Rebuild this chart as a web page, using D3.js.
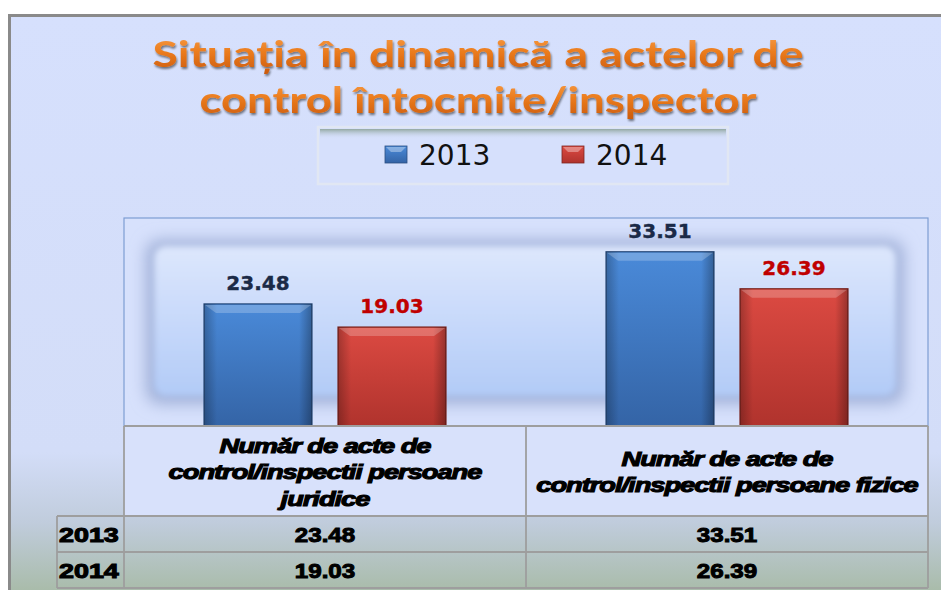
<!DOCTYPE html>
<html><head><meta charset="utf-8">
<script src="https://cdn.jsdelivr.net/npm/d3@7"></script>
<style>html,body{margin:0;padding:0;background:#fff;}svg{display:block;}</style>
</head><body>
<svg id="chart" width="941" height="590"></svg>
<script>
// ---- data ----
const titleLines = ["Situația în dinamică a actelor de", "control întocmite/inspector"];
const categories = ["juridice", "fizice"];
const categoryLabelLines = [
  ["Număr de acte de", "control/inspectii persoane", "juridice"],
  ["Număr de acte de", "control/inspectii persoane fizice"]
];
const seriesNames = ["2013", "2014"];
const values2013 = [23.48, 33.51];
const values2014 = [19.03, 26.39];
const seriesValues = [values2013, values2014];
const valueLabelColors = ["#1b2a47", "#c00000"];

// ---- layout ----
const W = 941, H = 590;
const plot = {left: 124, right: 928, top: 218, bottom: 426};
const svg = d3.select("#chart");
const defs = svg.append("defs");

function lin(id, stops, x2 = 0, y2 = 1) {
  const g = defs.append("linearGradient").attr("id", id)
    .attr("x1", 0).attr("y1", 0).attr("x2", x2).attr("y2", y2);
  stops.forEach(s => g.append("stop").attr("offset", s[0]).attr("stop-color", s[1]).attr("stop-opacity", s[2] == null ? 1 : s[2]));
}
lin("bgGrad", [[0, "#d6e0fd"], [0.74, "#d3ddf8"], [0.86, "#c0ccdc"], [1, "#a4b89f"]]);
lin("titleGrad", [[0, "#f9a24c"], [0.5, "#ea7a1c"], [1, "#c9580a"]]);
lin("blueBar", [[0, "#4a8ad9"], [1, "#3464a6"]]);
lin("redBar", [[0, "#dc4a42"], [1, "#b0332d"]]);
lin("glowGrad", [[0, "#dde7fd"], [1, "#b2cbf7"]]);
lin("legendTop", [[0, "#93a8a2"], [1, "#d6e0fc", 0]]);
lin("sideDark", [[0, "#000", 0.25], [0.12, "#000", 0], [0.88, "#000", 0], [1, "#000", 0.3]], 1, 0);

const fShadow = defs.append("filter").attr("id", "tshadow").attr("x", "-10%").attr("y", "-30%").attr("width", "120%").attr("height", "160%");
fShadow.append("feGaussianBlur").attr("in", "SourceAlpha").attr("stdDeviation", 1.2).attr("result", "b");
fShadow.append("feOffset").attr("dx", 1).attr("dy", 2).attr("result", "o");
fShadow.append("feComponentTransfer").append("feFuncA").attr("type", "linear").attr("slope", 0.5);
const m = fShadow.append("feMerge"); m.append("feMergeNode"); m.append("feMergeNode").attr("in", "SourceGraphic");

const fBlur = defs.append("filter").attr("id", "blur7").attr("x", "-20%").attr("y", "-30%").attr("width", "140%").attr("height", "160%");
fBlur.append("feGaussianBlur").attr("stdDeviation", 8);
const fBlur2 = defs.append("filter").attr("id", "blur3").attr("x", "-20%").attr("y", "-30%").attr("width", "140%").attr("height", "160%");
fBlur2.append("feGaussianBlur").attr("stdDeviation", 3);

// stretch text horizontally by factor k around its anchor
function stretch(sel, k) {
  sel.each(function() {
    const len = this.getComputedTextLength();
    d3.select(this).attr("textLength", len * k).attr("lengthAdjust", "spacingAndGlyphs");
  });
}

// background frame
svg.append("rect").attr("x", 0).attr("y", 0).attr("width", W).attr("height", H).attr("fill", "#fff");
svg.append("rect").attr("x", 9.5).attr("y", 15.5).attr("width", W).attr("height", H)
  .attr("fill", "url(#bgGrad)").attr("stroke", "#8a8a8a").attr("stroke-width", 3);

// title
const titleWidths = [651, 557];
svg.append("g").selectAll("text").data(titleLines).join("text")
  .attr("x", 478).attr("y", (d, i) => 67 + i * 46)
  .attr("text-anchor", "middle")
  .attr("font-family", "Lato, 'Open Sans', sans-serif").attr("font-weight", 700)
  .attr("font-size", 36).attr("fill", "url(#titleGrad)")
  .attr("filter", "url(#tshadow)")
  .attr("textLength", (d, i) => titleWidths[i]).attr("lengthAdjust", "spacingAndGlyphs")
  .text(d => d);

// legend
const lg = svg.append("g");
lg.append("rect").attr("x", 318).attr("y", 127).attr("width", 410).attr("height", 57)
  .attr("fill", "#d6e0fc").attr("stroke", "#e1e7f3").attr("stroke-width", 2.5);
lg.append("rect").attr("x", 320).attr("y", 129).attr("width", 406).attr("height", 10)
  .attr("fill", "url(#legendTop)");
const legendX = [385, 562];
const legItems = lg.selectAll("g.item").data(seriesNames).join("g").attr("class", "item")
  .attr("transform", (d, i) => `translate(${legendX[i]},146)`);
legItems.append("rect").attr("width", 22).attr("height", 17)
  .attr("fill", (d, i) => i === 0 ? "url(#blueBar)" : "url(#redBar)")
  .attr("stroke", (d, i) => i === 0 ? "#2c4f80" : "#7d2621").attr("stroke-width", 0.8);
legItems.append("path").attr("d", "M1,1 L21,1 L16,6 L6,6 Z")
  .attr("fill", "#fff").attr("opacity", 0.35);
legItems.append("text").attr("x", 34).attr("y", 19)
  .attr("font-family", "'DejaVu Sans', sans-serif").attr("font-size", 28).attr("fill", "#111")
  .text(d => d);

// plot area
svg.append("rect").attr("x", plot.left).attr("y", plot.top)
  .attr("width", plot.right - plot.left).attr("height", plot.bottom - plot.top)
  .attr("fill", "#d7e1fc").attr("stroke", "#7d9dd3").attr("stroke-width", 1.2);
// glow panel
svg.append("rect").attr("x", 146).attr("y", 240).attr("width", 758).attr("height", 164).attr("rx", 14)
  .attr("fill", "#a0b0d8").attr("filter", "url(#blur7)");
svg.append("rect").attr("x", 154).attr("y", 246).attr("width", 742).attr("height", 150).attr("rx", 12)
  .attr("fill", "url(#glowGrad)").attr("filter", "url(#blur3)");

// scales
const x0 = d3.scaleBand().domain(categories).range([plot.left, plot.right]).padding(0);
const x1 = d3.scaleBand().domain(seriesNames).range([80, x0.bandwidth() - 80]).paddingInner(0.194);
const y = d3.scaleLinear().domain([0, 40]).range([plot.bottom, plot.top]);

const barData = [];
categories.forEach((c, ci) => seriesNames.forEach((s, si) => barData.push({c, s, si, v: seriesValues[si][ci]})));

const bars = svg.append("g").selectAll("g.bar").data(barData).join("g").attr("class", "bar");
bars.append("rect")
  .attr("x", d => x0(d.c) + x1(d.s)).attr("y", d => y(d.v))
  .attr("width", x1.bandwidth()).attr("height", d => y(0) - y(d.v))
  .attr("fill", d => d.si === 0 ? "url(#blueBar)" : "url(#redBar)")
  .attr("stroke", d => d.si === 0 ? "#294a78" : "#7a241f").attr("stroke-width", 1.2);
bars.append("rect")
  .attr("x", d => x0(d.c) + x1(d.s)).attr("y", d => y(d.v))
  .attr("width", x1.bandwidth()).attr("height", d => y(0) - y(d.v))
  .attr("fill", "url(#sideDark)");
bars.append("path")
  .attr("d", d => {
    const xl = x0(d.c) + x1(d.s), xr = xl + x1.bandwidth(), yt = y(d.v);
    return `M${xl + 1},${yt + 1} L${xr - 1},${yt + 1} L${xr - 12},${yt + 9} L${xl + 12},${yt + 9} Z`;
  })
  .attr("fill", "#fff").attr("opacity", 0.22);

// value labels
svg.append("g").selectAll("text").data(barData).join("text")
  .attr("x", d => x0(d.c) + x1(d.s) + x1.bandwidth() / 2)
  .attr("y", d => y(d.v) - 14)
  .attr("text-anchor", "middle")
  .attr("font-family", "'DejaVu Sans', Verdana, sans-serif").attr("font-weight", 700)
  .attr("font-size", 20).attr("fill", d => valueLabelColors[d.si])
  .attr("stroke", d => valueLabelColors[d.si]).attr("stroke-width", 0.4)
  .text(d => d.v.toFixed(2));

// data table
const tbl = {headerBottom: 516, row1Bottom: 552, row2Bottom: 588, rowHeadLeft: 57};
const tg = svg.append("g");
const lineC = "#9e9e9e";
tg.append("rect").attr("x", plot.left).attr("y", plot.bottom).attr("width", plot.right - plot.left)
  .attr("height", tbl.headerBottom - plot.bottom).attr("fill", "#d8e1fb");
const hl = [[plot.left, plot.right, plot.bottom], [tbl.rowHeadLeft, plot.right, tbl.headerBottom],
  [tbl.rowHeadLeft, plot.right, tbl.row1Bottom], [tbl.rowHeadLeft, plot.right, tbl.row2Bottom]];
tg.selectAll("line.h").data(hl).join("line").attr("class", "h")
  .attr("x1", d => d[0]).attr("x2", d => d[1]).attr("y1", d => d[2]).attr("y2", d => d[2])
  .attr("stroke", lineC).attr("stroke-width", 1.8);
const vl = [[plot.left, plot.bottom, tbl.row2Bottom], [x0(categories[1]), plot.bottom, tbl.row2Bottom],
  [plot.right, plot.bottom, tbl.row2Bottom], [tbl.rowHeadLeft, tbl.headerBottom, tbl.row2Bottom]];
tg.selectAll("line.v").data(vl).join("line").attr("class", "v")
  .attr("x1", d => d[0]).attr("x2", d => d[0]).attr("y1", d => d[1]).attr("y2", d => d[2])
  .attr("stroke", lineC).attr("stroke-width", 1.8);

// category header labels
categories.forEach((c, ci) => {
  const lines = categoryLabelLines[ci];
  const cy = (plot.bottom + tbl.headerBottom) / 2 + 1;
  const lh = 26.5;
  const t = tg.append("g").selectAll("text").data(lines).join("text")
    .attr("x", x0(c) + x0.bandwidth() / 2)
    .attr("y", (d, i) => cy + (i - (lines.length - 1) / 2) * lh + 7)
    .attr("text-anchor", "middle")
    .attr("font-family", "'Liberation Sans', Arial, sans-serif").attr("font-weight", 700)
    .attr("font-style", "italic").attr("font-size", 21).attr("letter-spacing", -0.8)
    .attr("fill", "#000").attr("stroke", "#000").attr("stroke-width", 1.1)
    .text(d => d);
  stretch(t, 1.3);
});

// row headers and values
seriesNames.forEach((s, si) => {
  const rowTop = si === 0 ? tbl.headerBottom : tbl.row1Bottom;
  const rowBot = si === 0 ? tbl.row1Bottom : tbl.row2Bottom;
  const ty = (rowTop + rowBot) / 2 + 7.5;
  const rh = tg.append("text").attr("x", tbl.rowHeadLeft + 2).attr("y", ty)
    .attr("font-family", "'Liberation Sans', Arial, sans-serif").attr("font-weight", 700)
    .attr("font-size", 21)
    .attr("fill", "#000").attr("stroke", "#000").attr("stroke-width", 1.1)
    .text(s);
  stretch(rh, 1.28);
  const vt = tg.append("g").selectAll("text").data(categories).join("text")
    .attr("x", c => x0(c) + x0.bandwidth() / 2).attr("y", ty)
    .attr("text-anchor", "middle")
    .attr("font-family", "'Liberation Sans', Arial, sans-serif").attr("font-weight", 700)
    .attr("font-size", 21)
    .attr("fill", "#000").attr("stroke", "#000").attr("stroke-width", 1)
    .text((c, ci) => seriesValues[si][ci].toFixed(2));
  stretch(vt, 1.15);
});
</script>
</body></html>
